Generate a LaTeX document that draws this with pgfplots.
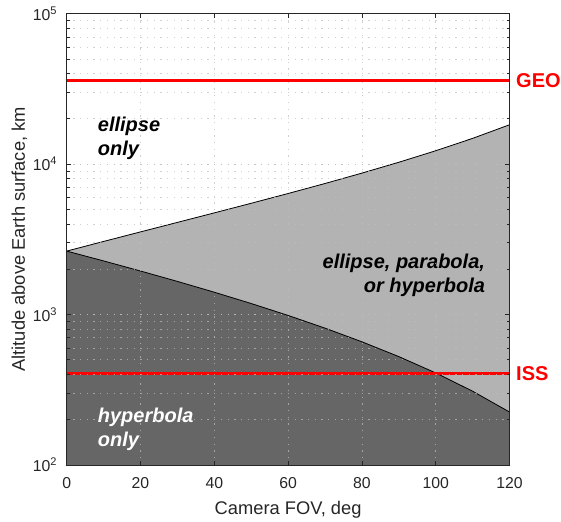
\documentclass[border=0pt]{standalone}
\usepackage{fontspec}
\setmainfont{Liberation Sans}
\usepackage{pgfplots}
\pgfplotsset{compat=1.18}
\definecolor{lightfill}{HTML}{B3B3B3}
\definecolor{darkfill}{HTML}{666666}
\definecolor{gridc}{HTML}{BEBEBE}
\definecolor{axc}{HTML}{262626}
\begin{document}
\begin{tikzpicture}
\begin{axis}[
  scale only axis,
  width=442.8bp, height=451.3bp,
  xmin=0, xmax=120, ymin=100, ymax=100000,
  ymode=log,
  xtick={0,20,40,60,80,100,120},
  ytick={100,1000,10000,100000},
  yticklabels={10\textsuperscript{2},10\textsuperscript{3},10\textsuperscript{4},10\textsuperscript{5}},
  /pgf/number format/assume math mode=true,
  axis on top,
  clip=true,
  clip mode=individual,
  grid=both,
  xminorgrids=false,
  yminorgrids=true,
  major grid style={color=gridc, opacity=0.72, line width=0.8bp, dash pattern=on 1.3bp off 5.4bp},
  minor grid style={color=gridc, opacity=0.72, line width=0.8bp, dash pattern=on 1.3bp off 5.4bp},
  axis line style={color=axc, line width=0.8bp},
  every tick/.style={color=axc, line width=0.8bp},
  major tick length=4.5bp,
  minor tick length=3bp,
  tick align=inside,
  tick label style={font=\fontsize{15.8bp}{18bp}\selectfont, text=axc},
  xticklabel style={anchor=base, yshift=-24bp},
  yticklabel style={anchor=east, inner sep=0pt, xshift=-9.4bp},
  xlabel={Camera FOV, deg},
  ylabel={Altitude above Earth surface, km},
  label style={font=\fontsize{18.3bp}{22bp}\selectfont, text=axc},
  xlabel style={at={(axis description cs:0.5,0)}, anchor=base, yshift=-50bp},
  ylabel style={at={(axis description cs:-0.0942,0.5)}, anchor=base, rotate=0},
]
\coordinate (sw) at (rel axis cs:0,0);
% region between upper boundary and bottom: light gray
\addplot[fill=lightfill, draw=none] coordinates {
  (0,2641.9) (10,3062.6) (20,3544.4) (30,4099.0) (40,4741.7) (50,5492.5)
  (60,6378.0) (70,7434.7) (80,8713.6) (90,10288.5) (100,12270.0)
  (110,14832.1) (120,18264.7) (120,50) (0,50)} -- cycle;
% region below lower boundary: dark gray
\addplot[fill=darkfill, draw=none] coordinates {
  (0,2641.9) (10,2272.8) (20,1947.9) (30,1661.3) (40,1408.1) (50,1184.3)
  (60,986.7) (70,812.4) (80,659.3) (90,525.5) (100,409.3)
  (110,309.5) (120,225.0) (120,50) (0,50)} -- cycle;
% boundary curves
\addplot[black, line width=0.8bp] coordinates {
  (0,2641.9) (10,3062.6) (20,3544.4) (30,4099.0) (40,4741.7) (50,5492.5)
  (60,6378.0) (70,7434.7) (80,8713.6) (90,10288.5) (100,12270.0)
  (110,14832.1) (120,18264.7)};
\addplot[black, line width=0.8bp] coordinates {
  (0,2641.9) (10,2272.8) (20,1947.9) (30,1661.3) (40,1408.1) (50,1184.3)
  (60,986.7) (70,812.4) (80,659.3) (90,525.5) (100,409.3)
  (110,309.5) (120,225.0)};
% GEO and ISS
\addplot[red, line width=3bp] coordinates {(0,35786) (120,35786)};
\addplot[red, line width=3bp] coordinates {(0,408) (120,408)};
\node[anchor=west, inner sep=0pt, xshift=6.5bp, text=red, font=\fontsize{20bp}{24bp}\selectfont\bfseries] at (axis cs:120,35786) {GEO};
\node[anchor=west, inner sep=0pt, xshift=6.5bp, text=red, font=\fontsize{20bp}{24bp}\selectfont\bfseries] at (axis cs:120,408) {ISS};
% region labels
\node[anchor=north west, inner sep=0pt, align=left, text=black, font=\fontsize{20bp}{24bp}\selectfont\bfseries\itshape] at (axis cs:8.4,20650) {ellipse\\only};
\node[anchor=north east, inner sep=0pt, align=right, text=black, font=\fontsize{20bp}{24bp}\selectfont\bfseries\itshape] at (axis cs:113.4,2518) {ellipse, parabola,\\or hyperbola};
\node[anchor=north west, inner sep=0pt, align=left, text=white, font=\fontsize{20bp}{24bp}\selectfont\bfseries\itshape] at (axis cs:8.4,241.5) {hyperbola\\only};
\end{axis}
\pgfresetboundingbox
\path[use as bounding box] ([shift={(-66.7bp,-57bp)}]sw) rectangle ([shift={(494.3bp,465bp)}]sw);
\end{tikzpicture}
\end{document}
